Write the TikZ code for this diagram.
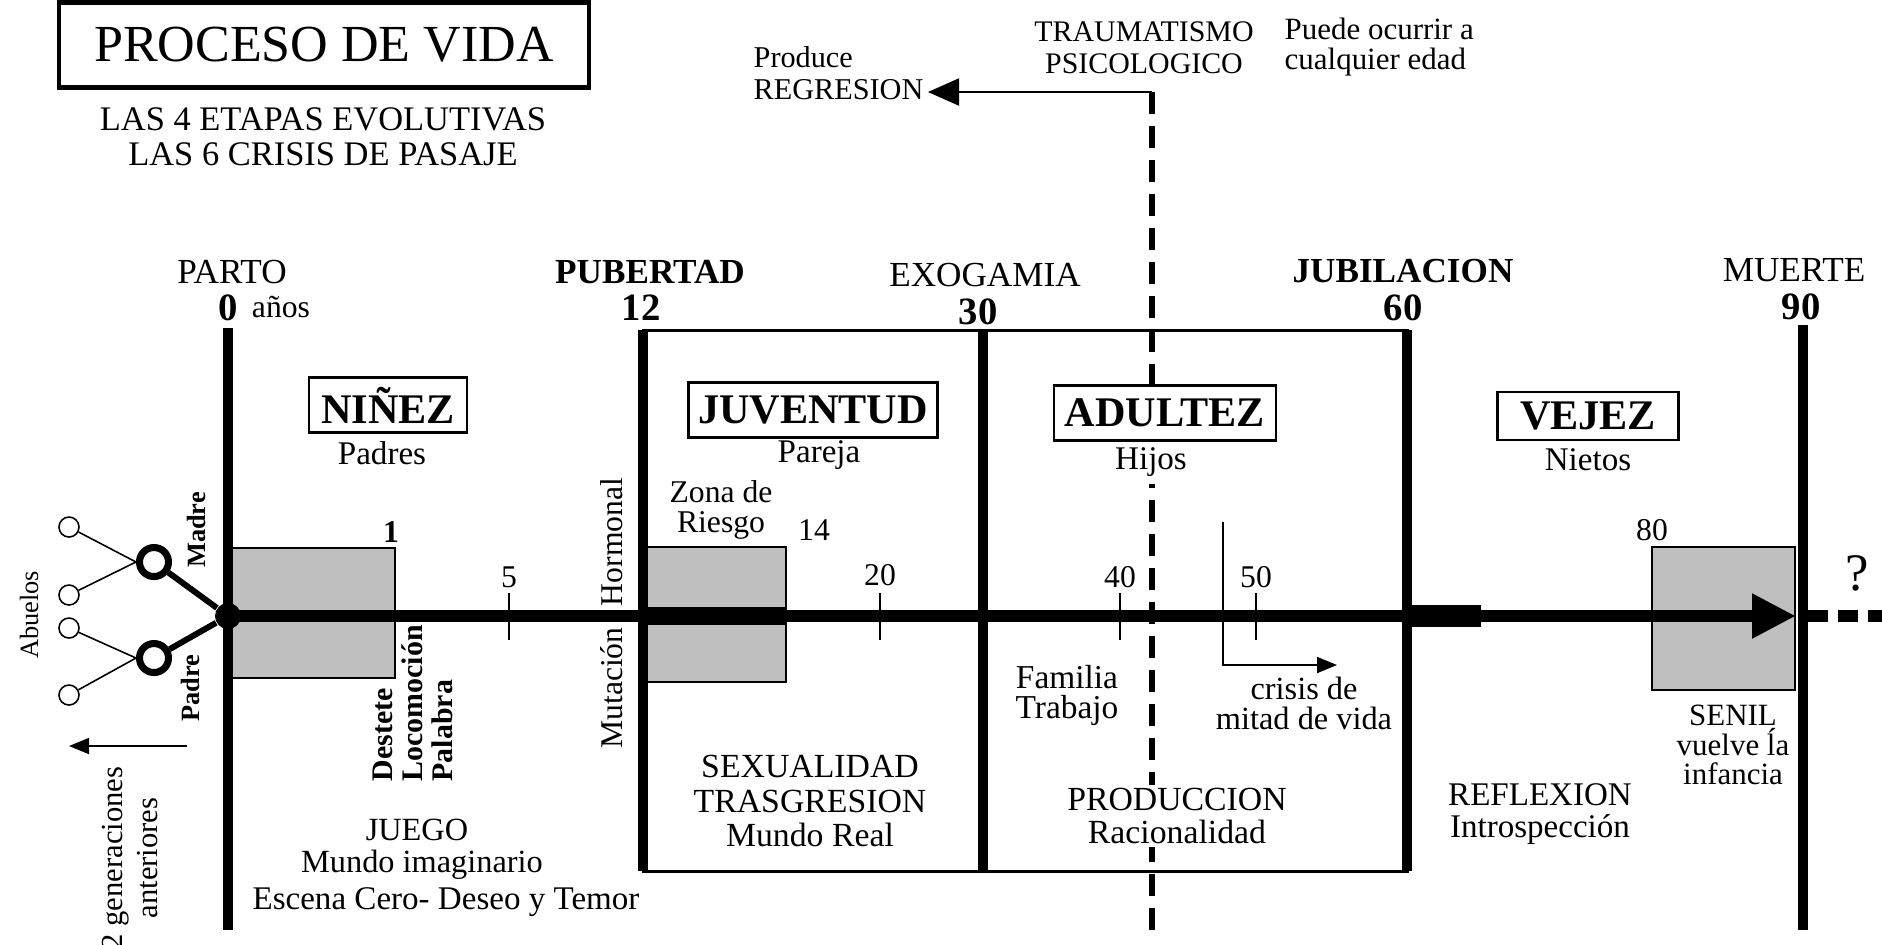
\documentclass[tikz,border=0pt]{standalone}
\usepackage{fontspec}
\setmainfont{Liberation Serif}
\usetikzlibrary{arrows.meta}

\tikzset{
  texto/.style={inner sep=0pt, align=center, font=\fontsize{9.4}{9.4}\selectfont},
  hito/.style={inner sep=0pt, font=\fontsize{10}{11}\selectfont},
  hitob/.style={inner sep=0pt, font=\bfseries\fontsize{10}{11}\selectfont},
  edad/.style={inner sep=0pt, font=\bfseries\fontsize{11}{12}\selectfont},
  marca/.style={inner sep=0pt, font=\fontsize{9}{10}\selectfont},
  etapa/.style={draw, fill=white, line width=0.7pt, inner sep=0pt, minimum height=0.55cm, font=\bfseries\fontsize{12}{13}\selectfont},
  gris/.style={draw, fill=black!25, line width=0.6pt},
  eje/.style={line width=3.4pt},
  limite/.style={line width=2.6pt},
  rayita/.style={line width=0.7pt},
  flecha/.style={line width=0.5pt, -{Triangle[length=0.2cm,width=0.16cm]}},
  abuelo/.style={circle, draw, fill=white, line width=0.45pt, inner sep=0pt, minimum size=0.2cm},
  anillo/.style={circle, draw, fill=white, line width=2pt, inner sep=0pt, minimum size=0.29cm},
  girado/.style={rotate=90, inner sep=0pt, align=center}
}

\begin{document}
\begin{tikzpicture}[x=0.01cm, y=-0.01cm]
\useasboundingbox (0,0) rectangle (1882,944);

% titulo
\node[draw, line width=1.2pt, minimum width=5.3cm, minimum height=0.85cm, inner sep=0pt,
  font=\fontsize{14.8}{15}\selectfont] (titulo) at (324,45) {PROCESO DE VIDA};
\node[texto, font=\fontsize{9.8}{10}\selectfont] (etapas) at (323,137) {LAS 4 ETAPAS EVOLUTIVAS\\LAS 6 CRISIS DE PASAJE};

% zonas grises
\draw[gris] (232,548) rectangle (395,678);
\draw[gris] (646,547) rectangle (786,682);
\draw[gris] (1652,547) rectangle (1795,690);

% cuadro 12--60
\draw[line width=0.85pt] (643,330) rectangle (1407,871);

% cortes de edad
\draw[limite] (228,328) -- (228,930);
\draw[limite] (643,330) -- (643,871);
\draw[limite] (983,330) -- (983,871);
\draw[limite] (1407,330) -- (1407,871);
\draw[limite] (1803,325) -- (1803,930);

% linea de vida
\node[circle, fill, inner sep=0pt, minimum size=0.26cm] (nac) at (228,616) {};
\coordinate (fin) at (1796,616);
\coordinate (mas) at (1882,616);
\draw[eje, -{Triangle[length=0.44cm,width=0.42cm]}] (nac.center) -- (fin);
\draw[eje, dash pattern=on 0.2cm off 0.1cm] (1808,616) -- (mas);
\draw[line width=5.1pt] (646,616) -- (786,616);
\draw[line width=6.3pt] (1406,616) -- (1481,616);

\draw[rayita] (509,593) -- (509,640);
\draw[rayita] (880,593) -- (880,640);
\draw[rayita] (1120,593) -- (1120,640);
\draw[rayita] (1256,593) -- (1256,640);

% traumatismo
\coordinate (corte) at (1152,92);
\coordinate (regr) at (928,92);
\draw[line width=1.7pt, dash pattern=on 0.22cm off 0.12cm] (corte) -- (1152,930);
\draw[line width=0.6pt, -{Triangle[length=0.31cm,width=0.27cm]}] (corte) -- (regr);

\node[texto, anchor=west, align=left, font=\fontsize{8.6}{9.1}\selectfont] (regresion) at (753,73) {Produce\\REGRESION};
\node[texto, font=\fontsize{8.5}{9}\selectfont] (trauma) at (1144,48) {TRAUMATISMO\\PSICOLOGICO};
\node[texto, anchor=west, align=left, font=\fontsize{8.8}{8.5}\selectfont] (puede) at (1284,47) {Puede ocurrir a\\cualquier edad};

% arbol
\node[anillo] (madre) at (154,562) {};
\node[anillo] (padre) at (154,658) {};
\node[abuelo] (ab1) at (69,527) {};
\node[abuelo] (ab2) at (69,595) {};
\node[abuelo] (ab3) at (69,628) {};
\node[abuelo] (ab4) at (69,695) {};
\draw[line width=0.45pt] (ab1) -- (madre.west);
\draw[line width=0.45pt] (ab2) -- (madre.west);
\draw[line width=0.45pt] (ab3) -- (padre.west);
\draw[line width=0.45pt] (ab4) -- (padre.west);
\draw[line width=1.7pt] (madre) -- (nac);
\draw[line width=1.7pt] (padre) -- (nac);

\node[girado, font=\bfseries\fontsize{7.5}{8}\selectfont] (lmadre) at (196,530) {Madre};
\node[girado, font=\bfseries\fontsize{7.5}{8}\selectfont] (lpadre) at (190,688) {Padre};
\node[girado, font=\fontsize{7.5}{8}\selectfont] (abuelos) at (29,615) {Abuelos};
\node[girado, font=\fontsize{8.7}{10}\selectfont] (generaciones) at (130,858) {2 generaciones\\anteriores};
\coordinate (g0) at (187,746);
\coordinate (g1) at (69,746);
\draw[flecha] (g0) -- (g1);

% hitos
\node[hito] (parto) at (232,272) {PARTO};
\node[edad] (cero) at (228,308) {0};
\node[marca] (anos) at (281,307) {años};
\node[hitob] (pubertad) at (650,272) {PUBERTAD};
\node[edad] (doce) at (641,308) {12};
\node[hito] (exogamia) at (985,275) {EXOGAMIA};
\node[edad] (treinta) at (978,312) {30};
\node[hitob] (jubilacion) at (1403,271) {JUBILACION};
\node[edad] (sesenta) at (1403,308) {60};
\node[hito] (muerte) at (1794,270) {MUERTE};
\node[edad] (noventa) at (1801,307) {90};

% etapas
\node[etapa, minimum width=1.58cm] (ninez) at (388,405) {NIÑEZ};
\node[texto] (padres) at (382,453) {Padres};
\node[etapa, minimum width=2.49cm] (juventud) at (813,410) {JUVENTUD};
\node[texto] (pareja) at (819,455) {Pareja};
\node[texto, fill=white, inner xsep=2pt, inner ysep=0.08cm] (hijos) at (1151,462) {Hijos};
\node[etapa, minimum width=2.22cm] (adultez) at (1165,413) {ADULTEZ};
\node[etapa, minimum width=1.81cm, minimum height=0.48cm] (vejez) at (1588,416) {VEJEZ};
\node[texto] (nietos) at (1588,460) {Nietos};

% edades
\node[marca, font=\bfseries\fontsize{9}{10}\selectfont] (uno) at (391,532) {1};
\node[marca] (cinco) at (509,577) {5};
\node[marca] (catorce) at (814,530) {14};
\node[marca] (veinte) at (880,575) {20};
\node[marca] (cuarenta) at (1120,577) {40};
\node[marca] (cincuenta) at (1256,577) {50};
\node[marca] (ochenta) at (1652,530) {80};
\node[texto, font=\fontsize{9}{8.5}\selectfont] (zona) at (721,510) {Zona de\\Riesgo};
\node[inner sep=0pt, font=\fontsize{15}{16}\selectfont] (pregunta) at (1857,573) {?};

\node[girado, font=\fontsize{9}{10}\selectfont] (hormonal) at (612,542) {Hormonal};
\node[girado, font=\fontsize{9}{10}\selectfont] (mutacion) at (612,688) {Mutación};
\node[girado, anchor=west, align=left, font=\bfseries\fontsize{8.5}{8.5}\selectfont] (destete) at (413,782) {Destete\\Locomoción\\Palabra};

% textos de abajo
\node[texto, font=\fontsize{9.2}{9.2}\selectfont] (juego) at (417,830) {JUEGO};
\node[texto, font=\fontsize{9.2}{9.2}\selectfont] (imaginario) at (422,865) {Mundo imaginario};
\node[texto] (escena) at (446,902) {Escena Cero- Deseo y Temor};
\node[texto, font=\fontsize{9.6}{9.7}\selectfont] (sexualidad) at (810,801) {SEXUALIDAD\\TRASGRESION\\Mundo Real};
\node[texto, font=\fontsize{9.5}{8.5}\selectfont] (familia) at (1067,695) {Familia\\Trabajo};
\coordinate (crisisarriba) at (1223,522);
\coordinate (crisisfin) at (1337,665);
\draw[flecha] (crisisarriba) |- (crisisfin);
\node[texto, font=\fontsize{9.2}{8.5}\selectfont] (crisis) at (1304,703) {crisis de\\mitad de vida};
\node[texto, fill=white, inner sep=1pt, font=\fontsize{9.6}{9.4}\selectfont] (produccion) at (1177,816) {PRODUCCION\\Racionalidad};
\node[texto, font=\fontsize{9.4}{9.1}\selectfont] (reflexion) at (1540,814) {REFLEXION\\Introspección};
\node[texto, font=\fontsize{8.8}{8.3}\selectfont] (senil) at (1733,745) {SENIL\\vuelve ĺa\\infancia};
\end{tikzpicture}
\end{document}
